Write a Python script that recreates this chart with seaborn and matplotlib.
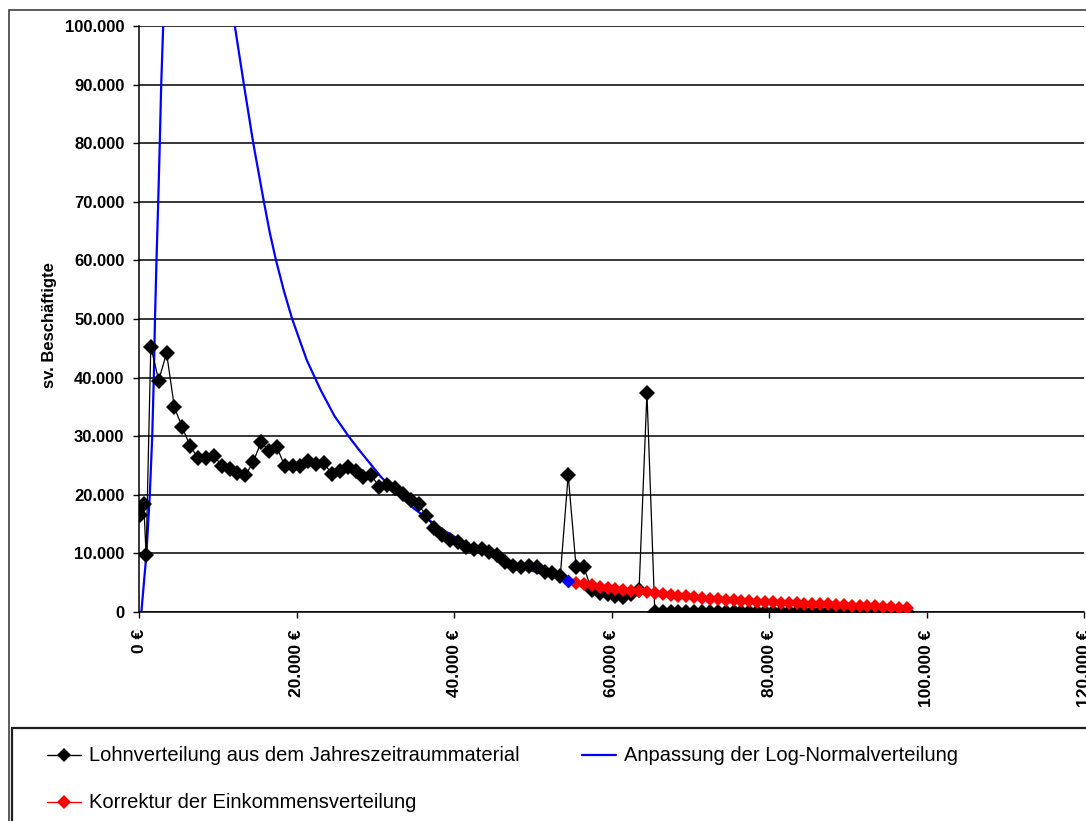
import matplotlib
matplotlib.use("Agg")
import matplotlib.pyplot as plt
from matplotlib.lines import Line2D
from matplotlib.patches import Rectangle
from matplotlib.ticker import FuncFormatter, MultipleLocator
import numpy as np
import seaborn as sns

# Lohnverteilung aus dem Jahreszeitraummaterial (Klassen à 1.000 €)
lohn_x = [100, 600, 900] + list(range(1500, 98000, 1000))
lohn_y = [16500, 18500, 9800,
          45300, 39500, 44200, 34900, 31500, 28300, 26300, 26300, 26700, 25000,
          24400, 23800, 23300, 25600, 29000, 27500, 28200, 24900, 25000, 25000,
          25800, 25200, 25400, 23500, 24000, 24800, 24000, 23000, 23300, 21400,
          21700, 21100, 20200, 19100, 18400, 16300, 14300, 13100, 12300, 12000,
          11100, 10700, 10700, 10300, 9700, 8600, 7900, 7700, 7900, 7600,
          6900, 6600, 6200, 23400, 7700, 7600, 3700, 3300, 3000, 2800,
          2600, 3000, 3800, 37400] + [0] * 33

# Anpassung der Log-Normalverteilung (oberhalb von 100.000 abgeschnitten)
logn_x = [300, 950, 1370, 1680, 1880, 2030, 2220, 2440, 2640, 2820, 3070, 3300,
          11900, 12170, 13320, 14510, 15860, 16600, 17400, 18400, 19450, 21300, 23060, 24800,
          26660, 28130, 30700, 32700, 34880, 38000, 42000, 46000, 50000, 54500]
logn_y = [0, 10000, 20000, 30000, 40000, 50000, 60000, 70000, 80000, 90000, 100000, 110000,
          110000, 100000, 90000, 80000, 70000, 64800, 60000, 54800, 50000, 43000, 37900, 33500,
          29900, 27350, 23100, 20300, 17700, 14500, 11300, 8800, 7000, 5300]

# Korrektur der Einkommensverteilung
korr_x = list(range(55500, 98000, 1000))
korr_y = [5000, 4750, 4550, 4350, 4150, 4000, 3800, 3650, 3500, 3350,
          3200, 3050, 2900, 2800, 2650, 2550, 2400, 2300, 2200, 2100,
          2000, 1900, 1850, 1750, 1700, 1650, 1600, 1550, 1500, 1450,
          1400, 1350, 1300, 1250, 1200, 1100, 1050, 1000, 950, 850,
          800, 750, 650]

labels = ["Lohnverteilung aus dem Jahreszeitraummaterial",
          "Anpassung der Log-Normalverteilung",
          "Korrektur der Einkommensverteilung"]

sns.set_theme(style="white")
plt.rcParams['font.family'] = ['Liberation Sans', 'DejaVu Sans']

W, H = 1086, 821
fig = plt.figure(figsize=(W / 100, H / 100), dpi=100)
ax = fig.add_axes([139 / W, 1 - 612 / H, (1084 - 139) / W, (612 - 26) / H])

sns.lineplot(x=logn_x, y=logn_y, ax=ax, color='#0000ff', lw=1.6,
             estimator=None, sort=False, zorder=2)
sns.lineplot(x=lohn_x, y=lohn_y, ax=ax, color='black', lw=0.9, marker='D',
             markersize=8, markeredgewidth=0, markeredgecolor='black',
             estimator=None, sort=False, zorder=3)
sns.lineplot(x=korr_x, y=korr_y, ax=ax, color='#ff0000', lw=0.9, marker='D',
             markersize=7, markeredgewidth=0, markeredgecolor='#ff0000',
             estimator=None, sort=False, zorder=4)
sns.scatterplot(x=logn_x[-1:], y=logn_y[-1:], ax=ax, color='#0000ff', marker='D',
                s=50, linewidth=0, zorder=5)

ax.set_xlim(0, 120000)
ax.set_ylim(0, 100000)
ax.xaxis.set_major_locator(MultipleLocator(20000))
ax.yaxis.set_major_locator(MultipleLocator(10000))
ax.yaxis.set_major_formatter(FuncFormatter(lambda v, p: f"{int(v):,}".replace(",", ".")))
ax.xaxis.set_major_formatter(FuncFormatter(lambda v, p: f"{int(v):,}".replace(",", ".") + " €"))

ax.yaxis.grid(True, color='black', lw=1.1)
ax.set_axisbelow(True)
for s in ['top', 'right']:
    ax.spines[s].set_visible(False)
for s in ['left', 'bottom']:
    ax.spines[s].set_color('black')
    ax.spines[s].set_linewidth(1.1)

ax.tick_params(axis='y', which='major', left=True, length=4.5, width=1, color='black',
               pad=6, labelsize=12, labelcolor='black')
ax.tick_params(axis='x', which='major', bottom=True, length=4.5, width=1, color='black',
               pad=8, labelsize=12.5, labelcolor='black', labelrotation=90)
for t in ax.get_xticklabels() + ax.get_yticklabels():
    t.set_fontweight('bold')

ax.set_xlabel('')
ax.set_ylabel('sv. Beschäftigte', fontsize=12, fontweight='bold', color='black')
ax.yaxis.set_label_coords(-0.087, 0.49)
if ax.get_legend():
    ax.get_legend().remove()

# Rahmen des Diagrammbereichs und der Legende
fig.patches.append(Rectangle((9 / W, -0.1), 2, 1.1 - 10 / H, transform=fig.transFigure,
                             fill=False, edgecolor='#404040', lw=1.2))
fig.patches.append(Rectangle((12 / W, -0.1), 2, 0.1 + (H - 728) / H, transform=fig.transFigure,
                             fill=False, edgecolor='#202020', lw=1.6))

# Legende
entries = [(47, 755, 'black', 'D', 7, labels[0]),
           (582, 755, '#0000ff', None, 0, labels[1]),
           (47, 802, '#ff0000', 'D', 7, labels[2])]
for x0, yc, c, m, ms, txt in entries:
    yf = 1 - yc / H
    fig.lines.append(Line2D([x0 / W, (x0 + 34) / W], [yf, yf], transform=fig.transFigure,
                            color=c, lw=1.0 if m else 1.6))
    if m:
        fig.lines.append(Line2D([(x0 + 17) / W], [yf], transform=fig.transFigure,
                                color=c, marker=m, markersize=ms, markeredgewidth=0, ls='none'))
    fig.text((x0 + 42) / W, yf, txt, fontsize=14.5, color='black', va='center', ha='left')

fig.savefig('out.png', dpi=100)
